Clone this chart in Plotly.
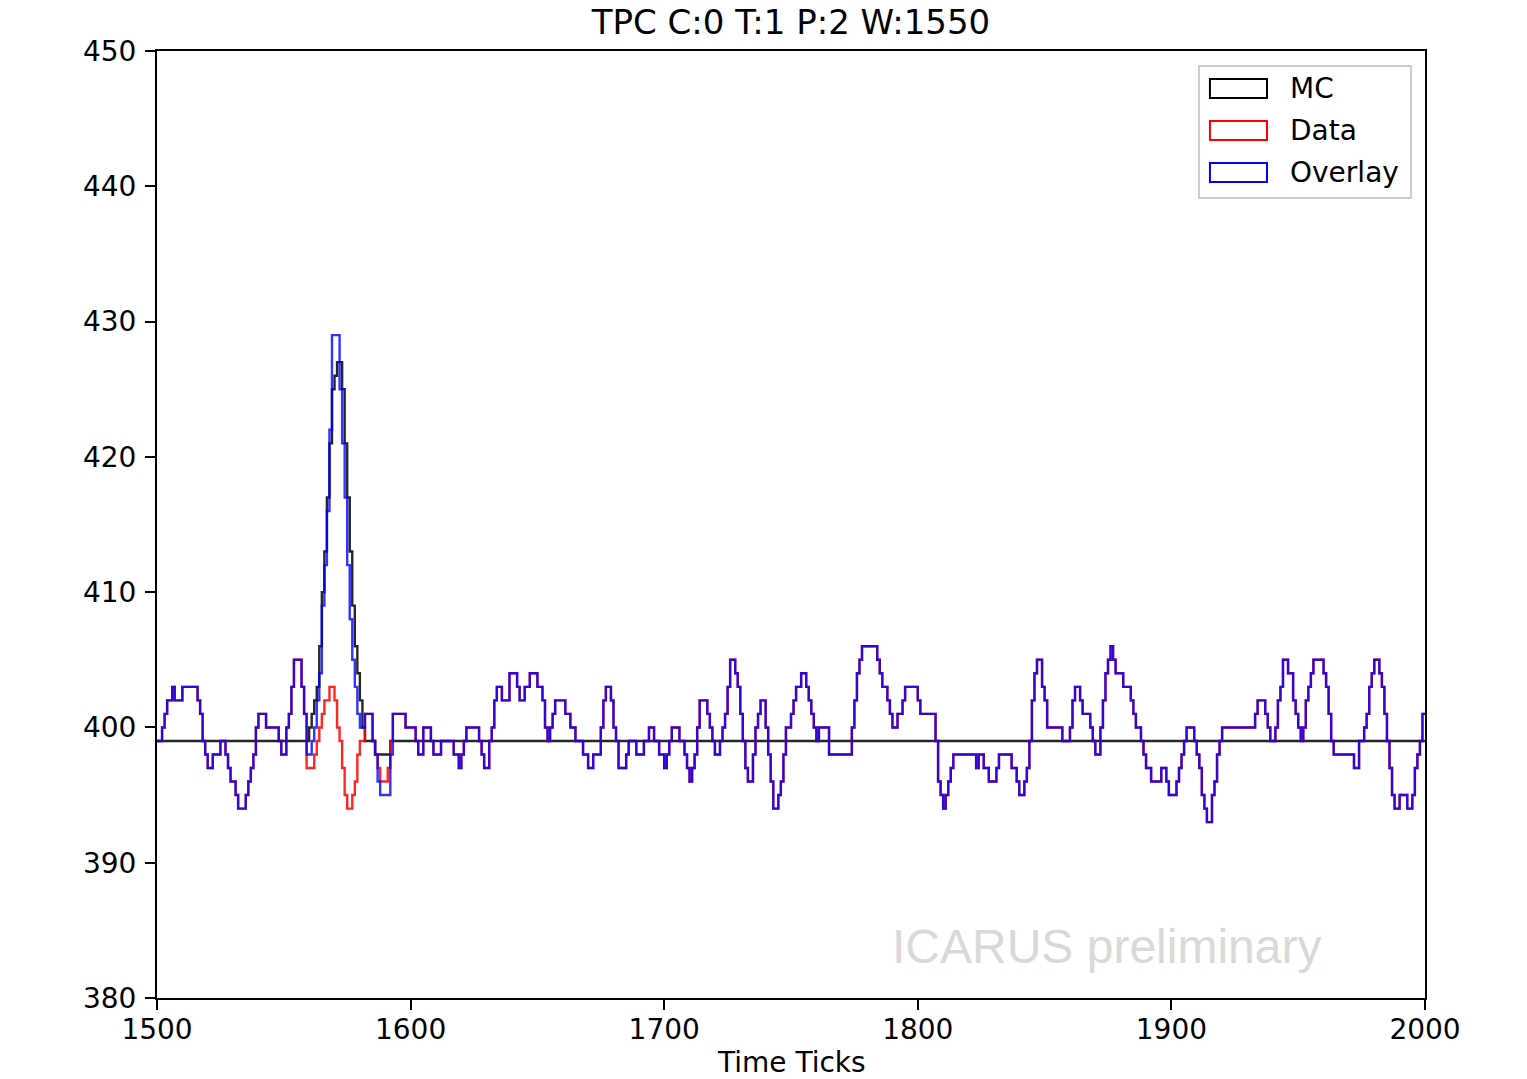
import plotly.graph_objects as go

# ---- Data (step start tick, ADC value) ----
# shared noise (Data == Overlay) before the signal region
pre_t = [1500, 1502, 1503, 1504, 1506, 1507, 1510, 1516, 1517, 1518, 1519, 1520, 1522, 1525,
         1527, 1528, 1529, 1531, 1532, 1535, 1536, 1537, 1538, 1539, 1540, 1543, 1548, 1549,
         1551, 1552, 1553, 1554, 1557, 1558]
pre_v = [399, 400, 401, 402, 403, 402, 403, 402, 401, 399, 398, 397, 398, 399,
         398, 397, 396, 395, 394, 395, 396, 397, 398, 400, 401, 400, 399, 398,
         400, 401, 403, 405, 403, 401]

# signal region: Data
data_sig_t = [1559, 1562, 1563, 1564, 1565, 1566, 1568, 1570, 1571, 1572, 1573, 1574, 1575,
              1577, 1578, 1579, 1580, 1582, 1585, 1586, 1587, 1588, 1591, 1592]
data_sig_v = [397, 398, 399, 400, 401, 402, 403, 402, 400, 399, 397, 395, 394,
              395, 396, 398, 399, 401, 399, 398, 397, 396, 397, 399]

# signal region: Overlay
ovl_sig_t = [1559, 1561, 1562, 1563, 1564, 1565, 1566, 1567, 1568, 1569, 1572, 1573, 1574,
             1575, 1576, 1577, 1578, 1579, 1580, 1582, 1585, 1586, 1587, 1588, 1592]
ovl_sig_v = [398, 399, 400, 402, 404, 409, 412, 416, 422, 429, 425, 421, 417,
             412, 408, 405, 403, 401, 400, 401, 399, 398, 396, 395, 398]

# shared noise after the signal region
post_t = [1593, 1598, 1602, 1603, 1605, 1608, 1609, 1612, 1617, 1619, 1620, 1621, 1622, 1627,
          1628, 1629, 1631, 1632, 1633, 1634, 1636, 1639, 1642, 1643, 1645, 1647, 1650, 1652,
          1653, 1654, 1655, 1656, 1657, 1661, 1663, 1665, 1668, 1670, 1672, 1675, 1676, 1677,
          1679, 1680, 1681, 1682, 1685, 1686, 1689, 1692, 1694, 1696, 1698, 1700, 1701, 1702,
          1703, 1706, 1708, 1709, 1710, 1711, 1712, 1713, 1714, 1717, 1718, 1719, 1720, 1722,
          1723, 1724, 1725, 1726, 1728, 1729, 1730, 1731, 1732, 1733, 1735, 1736, 1737, 1738,
          1740, 1741, 1742, 1743, 1745, 1746, 1747, 1748, 1750, 1751, 1752, 1754, 1756, 1757,
          1758, 1759, 1760, 1761, 1765, 1774, 1775, 1776, 1777, 1778, 1784, 1785, 1786, 1788,
          1789, 1790, 1792, 1794, 1795, 1800, 1801, 1807, 1808, 1809, 1810, 1811, 1812, 1813,
          1814, 1823, 1824, 1826, 1828, 1831, 1832, 1837, 1839, 1840, 1842, 1843, 1844, 1845,
          1846, 1847, 1849, 1850, 1851, 1857, 1860, 1861, 1862, 1864, 1865, 1868, 1869, 1870,
          1872, 1873, 1874, 1875, 1876, 1877, 1878, 1881, 1884, 1885, 1886, 1888, 1889, 1890,
          1892, 1896, 1898, 1899, 1902, 1903, 1904, 1905, 1906, 1909, 1910, 1911, 1912, 1913,
          1914, 1916, 1917, 1918, 1919, 1920, 1933, 1934, 1937, 1938, 1939, 1941, 1942, 1943,
          1944, 1946, 1948, 1949, 1950, 1951, 1952, 1953, 1954, 1955, 1956, 1960, 1961, 1962,
          1963, 1964, 1972, 1974, 1976, 1977, 1978, 1979, 1980, 1982, 1983, 1984, 1985, 1986,
          1987, 1988, 1990, 1993, 1995, 1996, 1997, 1998, 1999]
post_v = [401, 400, 399, 398, 400, 399, 398, 399, 398, 397, 398, 399, 400, 399,
          398, 397, 399, 400, 402, 403, 402, 404, 403, 402, 403, 404, 403, 402,
          400, 399, 400, 401, 402, 401, 400, 399, 398, 397, 398, 400, 402, 403,
          402, 400, 399, 397, 398, 399, 398, 399, 400, 399, 398, 397, 398, 399,
          400, 399, 398, 397, 396, 397, 398, 400, 402, 401, 400, 399, 398, 399,
          400, 401, 403, 405, 404, 403, 401, 399, 397, 396, 398, 400, 401, 402,
          400, 398, 396, 394, 395, 396, 398, 400, 401, 402, 403, 404, 403, 402,
          401, 400, 399, 400, 398, 400, 402, 404, 405, 406, 405, 404, 403, 402,
          401, 400, 401, 402, 403, 402, 401, 399, 396, 395, 394, 395, 396, 397,
          398, 397, 398, 397, 396, 397, 398, 397, 396, 395, 396, 397, 399, 402,
          404, 405, 403, 402, 400, 399, 400, 402, 403, 402, 401, 400, 399, 398,
          400, 402, 404, 405, 406, 405, 404, 403, 402, 401, 400, 399, 398, 397,
          396, 397, 396, 395, 396, 397, 398, 399, 400, 399, 398, 397, 395, 394,
          393, 395, 396, 398, 399, 400, 401, 402, 401, 400, 399, 400, 402, 403,
          405, 404, 402, 401, 400, 399, 400, 402, 403, 404, 405, 404, 403, 401,
          399, 398, 397, 399, 400, 401, 403, 404, 405, 404, 403, 401, 399, 397,
          395, 394, 395, 394, 395, 397, 398, 399, 401]

# MC (pure simulation)
mc_t = [1500, 1560, 1561, 1562, 1563, 1564, 1565, 1566, 1567, 1568, 1569, 1570, 1571, 1573,
        1574, 1575, 1576, 1577, 1578, 1579, 1580, 1581, 1582, 1586, 1592]
mc_v = [399, 400, 401, 402, 403, 406, 410, 413, 417, 421, 425, 426, 427, 425,
        421, 417, 413, 409, 406, 404, 402, 400, 399, 398, 399]

x_end = 2000
x_ticks = [1500, 1600, 1700, 1800, 1900, 2000]
y_ticks = [380, 390, 400, 410, 420, 430, 440, 450]
series_names = ["MC", "Data", "Overlay"]
title_text = "TPC C:0 T:1 P:2 W:1550"
x_title = "Time Ticks"
watermark = "ICARUS preliminary"

# ---- build step series ----
data_t = pre_t + data_sig_t + post_t
data_v = pre_v + data_sig_v + post_v
ovl_t = pre_t + ovl_sig_t + post_t
ovl_v = pre_v + ovl_sig_v + post_v


def closed(t, v):
    return t + [x_end], v + [v[-1]]


FONT = "DejaVu Sans"
colors = {"MC": "rgba(0,0,0,0.85)", "Data": "rgba(255,0,0,0.85)", "Overlay": "rgba(0,0,255,0.8)"}

fig = go.Figure()
for name, (t, v) in zip(series_names, [(mc_t, mc_v), (data_t, data_v), (ovl_t, ovl_v)]):
    xs, ys = closed(t, v)
    fig.add_trace(go.Scatter(x=xs, y=ys, mode="lines", line=dict(shape="hv", color=colors[name], width=2.4),
                             name=name, showlegend=False, hoverinfo="skip"))

axis_common = dict(showline=True, mirror=True, linecolor="black", linewidth=2, ticks="outside",
                   ticklen=10, tickwidth=2, tickcolor="black", showgrid=False, zeroline=False,
                   automargin=False, tickfont=dict(family=FONT, size=28, color="black"))

fig.update_layout(
    width=1527, height=1079,
    margin=dict(l=157, r=102, t=51, b=81),
    paper_bgcolor="white", plot_bgcolor="white",
    title=dict(text=title_text, font=dict(family=FONT, size=34, color="black"),
               x=0.5, xref="paper", xanchor="center", y=1 - 22 / 1079, yref="container", yanchor="middle"),
    xaxis=dict(range=[1500, 2000], tickvals=x_ticks, ticklabelstandoff=-5, **axis_common),
    yaxis=dict(range=[380, 450], tickvals=y_ticks, ticklabelstandoff=3, **axis_common),
    showlegend=False,
)

# x-axis title
fig.add_annotation(text=x_title, xref="paper", yref="paper", x=0.5, y=-0.0686, xanchor="center",
                   yanchor="middle", showarrow=False, font=dict(family=FONT, size=28, color="black"))

# watermark
fig.add_annotation(text=watermark, xref="paper", yref="paper", x=0.578, y=0.054, xanchor="left",
                   yanchor="middle", showarrow=False,
                   font=dict(family="Liberation Sans", size=48, color="#d9d9d9"))

# legend (matplotlib-style frame with empty coloured patches)
fig.add_shape(type="rect", xref="paper", yref="paper", x0=0.8218, x1=0.9890, y0=0.8448, y1=0.9842,
              line=dict(color="#cccccc", width=2), fillcolor="rgba(255,255,255,0.8)", layer="above")
leg_y = [0.9604, 0.9161, 0.8717]
leg_colors = ["black", "red", "blue"]
for name, yc, c in zip(series_names, leg_y, leg_colors):
    fig.add_shape(type="rect", xref="paper", yref="paper", x0=0.8304, x1=0.8754, y0=yc - 0.0100, y1=yc + 0.0100,
                  line=dict(color=c, width=2), fillcolor="rgba(0,0,0,0)", layer="above")
    fig.add_annotation(text=name, xref="paper", yref="paper", x=0.8920, y=yc, xanchor="left", yanchor="middle",
                       showarrow=False, font=dict(family=FONT, size=28, color="black"))

fig.write_html("out.html")
